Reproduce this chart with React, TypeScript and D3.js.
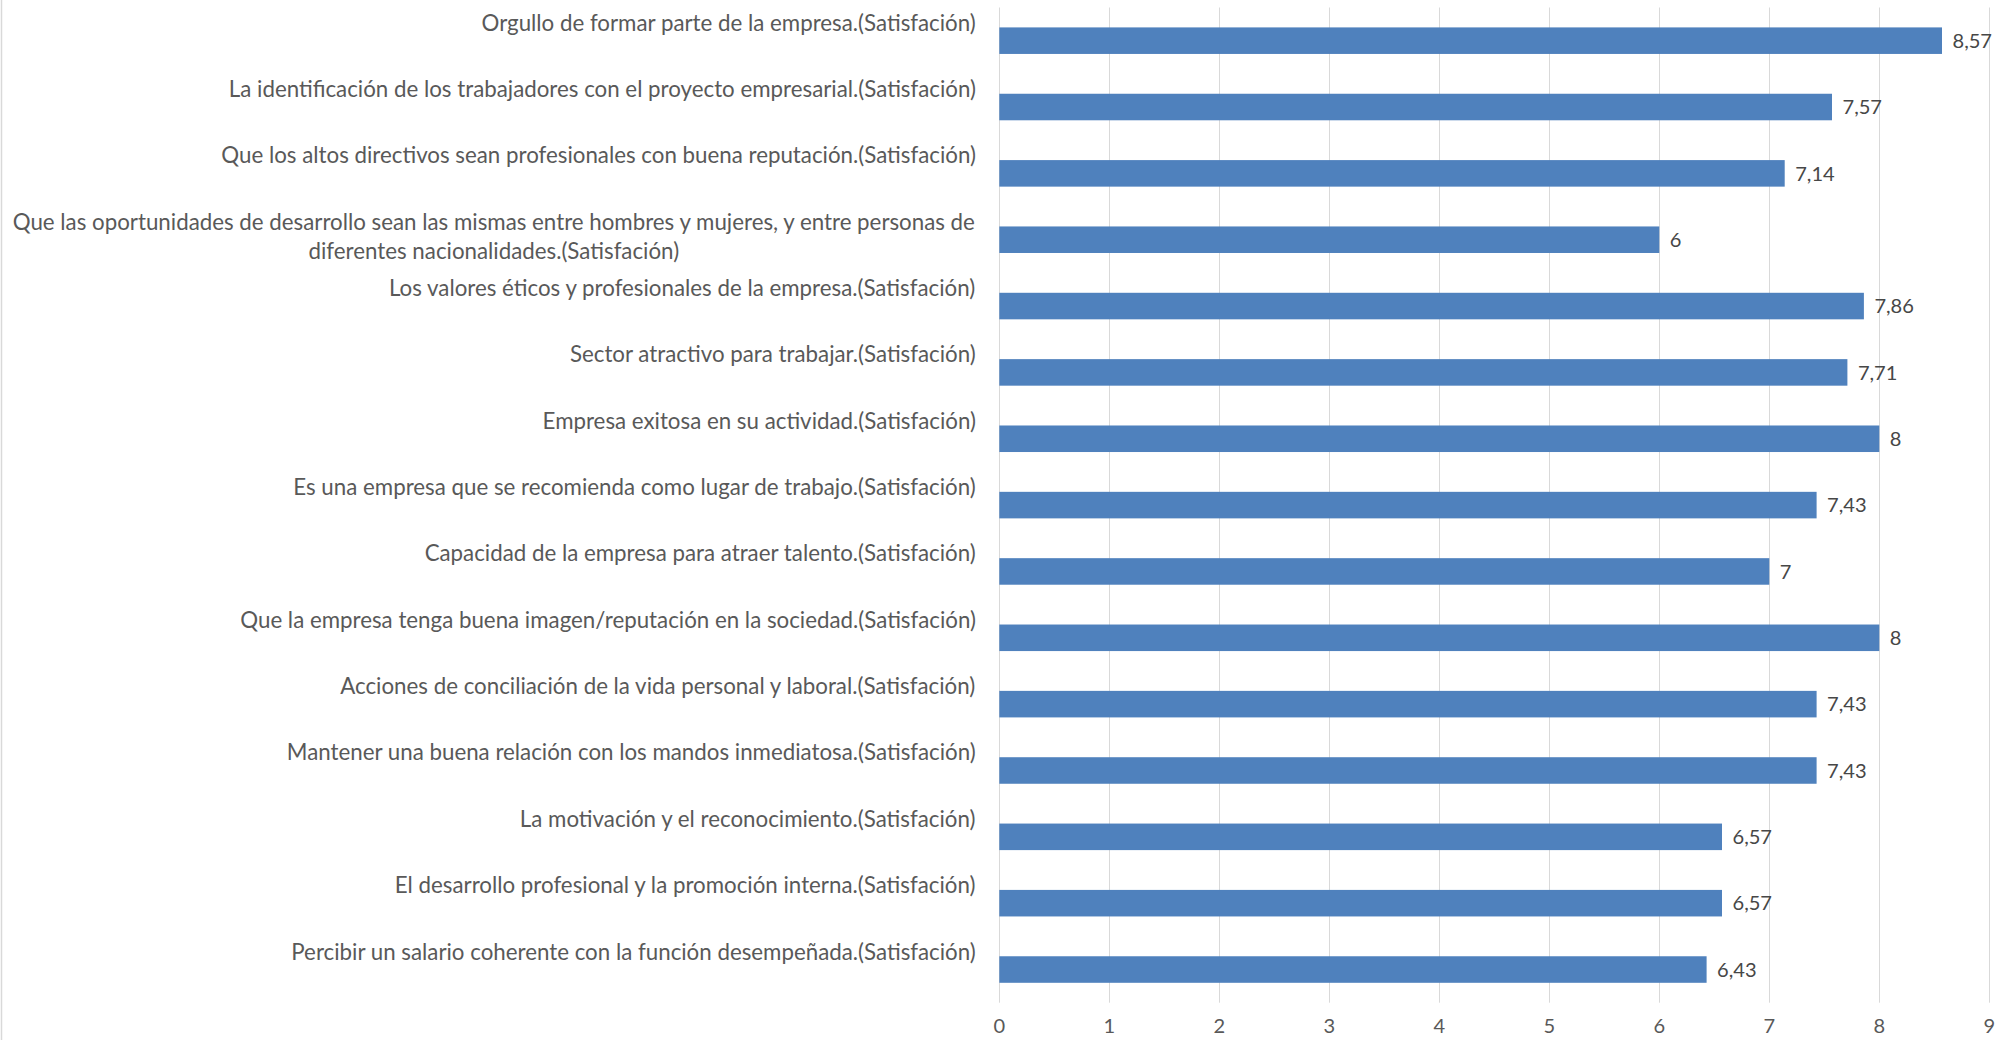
import React, { useMemo } from "react";
import * as d3 from "d3";

const categories: string[] = [
  "Orgullo de formar parte de la empresa.(Satisfación)",
  "La identificación de los trabajadores con el proyecto empresarial.(Satisfación)",
  "Que los altos directivos sean profesionales con buena reputación.(Satisfación)",
  "Que las oportunidades de desarrollo sean las mismas entre hombres y mujeres, y entre personas de diferentes nacionalidades.(Satisfación)",
  "Los valores éticos y profesionales de la empresa.(Satisfación)",
  "Sector atractivo para trabajar.(Satisfación)",
  "Empresa exitosa en su actividad.(Satisfación)",
  "Es una empresa que se recomienda como lugar de trabajo.(Satisfación)",
  "Capacidad de la empresa para atraer talento.(Satisfación)",
  "Que la empresa tenga buena imagen/reputación en la sociedad.(Satisfación)",
  "Acciones de conciliación de la vida personal y laboral.(Satisfación)",
  "Mantener una buena relación con los mandos inmediatosa.(Satisfación)",
  "La motivación y el reconocimiento.(Satisfación)",
  "El desarrollo profesional y la promoción interna.(Satisfación)",
  "Percibir un salario coherente con la función desempeñada.(Satisfación)",
];

const values: number[] = [8.57, 7.57, 7.14, 6, 7.86, 7.71, 8, 7.43, 7, 8, 7.43, 7.43, 6.57, 6.57, 6.43];

const xTicks: number[] = [0, 1, 2, 3, 4, 5, 6, 7, 8, 9];

const W = 1995;
const H = 1040;
const FONT = "Lato, 'Open Sans', sans-serif";
const BAR = "#4F81BD";
const GRID = "#D9D9D9";
const AXIS_TEXT = "#595959";
const LABEL_TEXT = "#474747";

function makeMeasure(size: number) {
  const c = document.createElement("canvas");
  const ctx = c.getContext("2d")!;
  ctx.font = `${size}px Lato`;
  return (s: string) => ctx.measureText(s).width;
}

export default function App() {
  const layout = useMemo(() => {
    const m20 = makeMeasure(20);
    const target = 495;
    const w0 = m20(categories[0]) || 470;
    const fs = Math.max(17, Math.min(23, (20 * target) / w0));
    const measure = makeMeasure(fs);
    const maxW = 968;
    const wrapped = categories.map((c) => {
      const words = c.split(" ");
      const lines: string[] = [];
      let cur = "";
      for (const w of words) {
        const t = cur ? cur + " " + w : w;
        if (measure(t) > maxW && cur) {
          lines.push(cur);
          cur = w;
        } else cur = t;
      }
      if (cur) lines.push(cur);
      const widths = lines.map(measure);
      return { lines, block: Math.max(...widths) };
    });
    return { fs, wrapped };
  }, []);

  const x = d3.scaleLinear().domain([0, 9]).range([999.3, 1989.3]);
  const y = d3
    .scaleBand<string>()
    .domain(categories)
    .range([7.5, 1002.7])
    .paddingInner(0.6)
    .paddingOuter(0.3);

  const labelRight = 976;
  const fs = layout.fs;
  const fsSmall = fs * 0.9;

  return (
    <div style={{ position: "absolute", left: 0, top: 0 }}>
      <svg width={W} height={H} style={{ display: "block", background: "#fff" }} fontFamily={FONT}>
        <rect x={0} y={0} width={W} height={H} fill="#fff" />
        <line x1={1.5} x2={1.5} y1={0} y2={H} stroke={GRID} strokeWidth={1.5} />
        {xTicks.map((t) => (
          <line
            key={"g" + t}
            x1={Math.round(x(t)) + 0.5}
            x2={Math.round(x(t)) + 0.5}
            y1={y.range()[0]}
            y2={y.range()[1]}
            stroke={GRID}
            strokeWidth={1}
          />
        ))}
        {categories.map((c, i) => (
          <rect
            key={"b" + i}
            x={x(0)}
            y={y(c)!}
            width={x(values[i]) - x(0)}
            height={y.bandwidth()}
            fill={BAR}
          />
        ))}
        {categories.map((c, i) => (
          <text
            key={"v" + i}
            x={x(values[i]) + 10.5}
            y={y(c)! + y.bandwidth() / 2}
            dy="0.36em"
            fontSize={fsSmall}
            fill={LABEL_TEXT}
          >
            {d3.format("")(values[i]).replace(".", ",")}
          </text>
        ))}
        {xTicks.map((t) => (
          <text
            key={"t" + t}
            x={x(t)}
            y={1033}
            textAnchor="middle"
            fontSize={fsSmall}
            fill={AXIS_TEXT}
          >
            {t}
          </text>
        ))}
        {categories.map((c, i) => {
          const cy = y(c)! + y.bandwidth() / 2;
          const info = layout.wrapped[i];
          const cx = labelRight - info.block / 2;
          return (
            <text key={"c" + i} fontSize={fs} fill={AXIS_TEXT} textAnchor="middle">
              {info.lines.map((ln, k) => (
                <tspan key={k} x={cx} y={cy - 10 + k * 29}>
                  {ln}
                </tspan>
              ))}
            </text>
          );
        })}
      </svg>
    </div>
  );
}
